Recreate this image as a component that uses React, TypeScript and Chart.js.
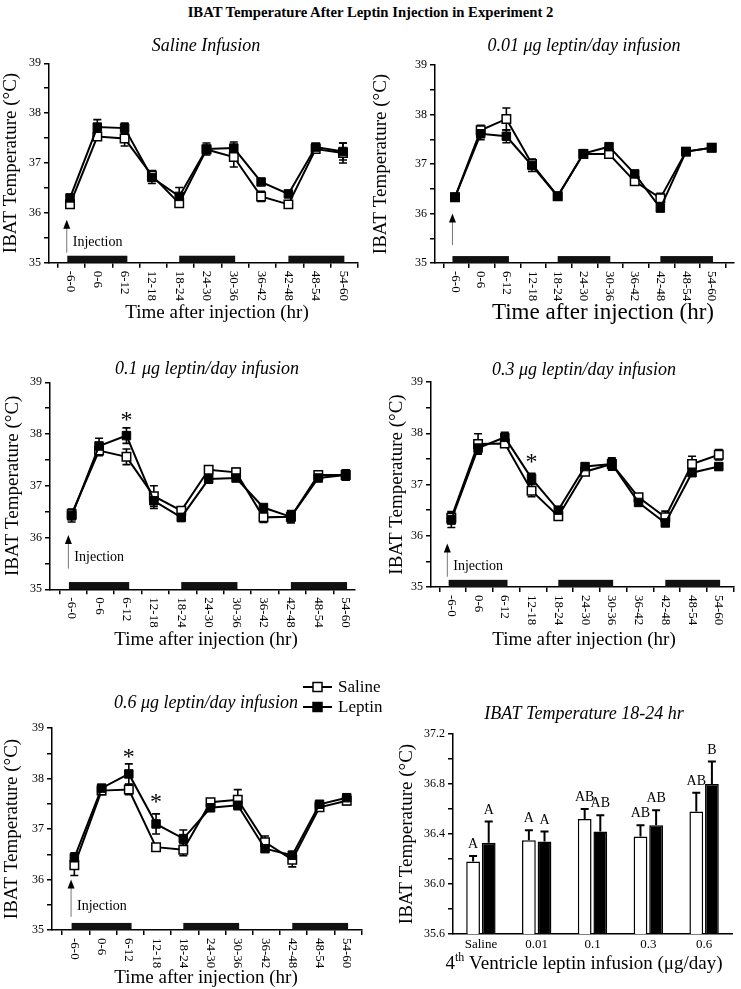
import React, { useEffect, useRef } from 'react';
import { Chart, registerables } from 'chart.js';
Chart.register(...registerables);

const SERIF = '"Liberation Serif", "Times New Roman", Times, serif';

const mainTitle = 'IBAT Temperature After Leptin Injection in Experiment 2';
const timeLabels = ['-6-0', '0-6', '6-12', '12-18', '18-24', '24-30', '30-36', '36-42', '42-48', '48-54', '54-60'];
const tickMarks = [-0.45, 0.55, 1.55, 2.55, 3.55, 4.55, 5.55, 6.55, 7.55, 8.55, 9.55, 10.55];
const darkPeriods: [number, number][] = [[-0.1, 2.1], [4.0, 6.05], [8.0, 10.05]];
const darkBarTop = 35.14;

// Saline infusion
const sal_saline = [36.17, 37.53, 37.49, 36.75, 36.19, 37.27, 37.12, 36.33, 36.17, 37.28, 37.2];
const sal_salineErr = [0.07, 0.06, 0.15, 0.1, 0.05, 0.07, 0.2, 0.1, 0.04, 0.07, 0.2];
const sal_leptin = [36.3, 37.72, 37.7, 36.71, 36.33, 37.28, 37.3, 36.62, 36.38, 37.32, 37.23];
const sal_leptinErr = [0.06, 0.15, 0.1, 0.12, 0.18, 0.12, 0.12, 0.04, 0.05, 0.06, 0.17];

// 0.01 ug
const d001_saline = [36.33, 37.68, 37.91, 37.0, 36.35, 37.2, 37.2, 36.65, 36.31, 37.25, 37.33];
const d001_salineErr = [0.05, 0.1, 0.22, 0.1, 0.05, 0.06, 0.05, 0.06, 0.1, 0.04, 0.05];
const d001_leptin = [36.33, 37.61, 37.56, 36.97, 36.35, 37.21, 37.35, 36.8, 36.11, 37.25, 37.33];
const d001_leptinErr = [0.06, 0.12, 0.13, 0.12, 0.05, 0.07, 0.05, 0.05, 0.07, 0.04, 0.06];

// 0.1 ug
const d01_saline = [36.45, 37.68, 37.56, 36.8, 36.52, 37.31, 37.26, 36.39, 36.4, 37.21, 37.21];
const d01_salineErr = [0.1, 0.1, 0.15, 0.2, 0.05, 0.05, 0.08, 0.1, 0.1, 0.05, 0.1];
const d01_leptin = [36.42, 37.77, 37.97, 36.71, 36.39, 37.13, 37.15, 36.58, 36.4, 37.15, 37.21];
const d01_leptinErr = [0.12, 0.15, 0.15, 0.15, 0.08, 0.08, 0.05, 0.06, 0.12, 0.06, 0.1];

// 0.3 ug
const d03_saline = [36.35, 37.79, 37.8, 36.88, 36.38, 37.25, 37.4, 36.75, 36.36, 37.4, 37.58];
const d03_salineErr = [0.12, 0.2, 0.06, 0.12, 0.06, 0.05, 0.1, 0.05, 0.12, 0.15, 0.1];
const d03_leptin = [36.31, 37.71, 37.92, 37.12, 36.5, 37.35, 37.4, 36.65, 36.25, 37.23, 37.35];
const d03_leptinErr = [0.15, 0.1, 0.1, 0.1, 0.06, 0.05, 0.12, 0.05, 0.05, 0.05, 0.06];

// 0.6 ug
const d06_saline = [36.28, 37.76, 37.78, 36.64, 36.59, 37.53, 37.58, 36.74, 36.39, 37.43, 37.56];
const d06_salineErr = [0.2, 0.08, 0.1, 0.05, 0.12, 0.05, 0.2, 0.12, 0.14, 0.05, 0.08];
const d06_leptin = [36.43, 37.81, 38.09, 37.1, 36.81, 37.42, 37.47, 36.61, 36.48, 37.49, 37.62];
const d06_leptinErr = [0.1, 0.06, 0.2, 0.2, 0.17, 0.05, 0.06, 0.05, 0.08, 0.05, 0.06];

// Bar panel 18-24 hr
const doseLabels = ['Saline', '0.01', '0.1', '0.3', '0.6'];
const barSaline = [36.18, 36.35, 36.52, 36.38, 36.58];
const barSalineErr = [0.045, 0.08, 0.08, 0.09, 0.15];
const barLeptin = [36.33, 36.34, 36.42, 36.47, 36.8];
const barLeptinErr = [0.17, 0.08, 0.13, 0.12, 0.18];
const barLettersSaline = ['A', 'A', 'AB', 'AB', 'AB'];
const barLettersLeptin = ['A', 'A', 'AB', 'AB', 'B'];

type Box = { x: number; y: number; w: number; h: number };
type Area = { l: number; t: number; r: number; b: number };
type LineCfg = {
  box: Box; area: Area; xMin: number; xMax: number;
  title: string; titleX: number; titleY: number;
  xTitleX: number; xTitleY: number; xTitleSize: number; yTitleX: number;
  saline: number[]; salineErr: number[]; leptin: number[]; leptinErr: number[];
  arrowX: number; arrowTip: number; arrowBase: number; injLabelY: number | null;
  stars: { i: number; y: number }[]; legend?: boolean;
};

const Y_TITLE_SIZE = 19;

const panels: LineCfg[] = [
  {
    box: { x: 0, y: 30, w: 370, h: 295 }, area: { l: 49, t: 63.3, r: 358, b: 262.7 }, xMin: -0.77, xMax: 10.55,
    title: 'Saline Infusion', titleX: 206, titleY: 46.7, xTitleX: 217, xTitleY: 313, xTitleSize: 19, yTitleX: 10,
    saline: sal_saline, salineErr: sal_salineErr, leptin: sal_leptin, leptinErr: sal_leptinErr,
    arrowX: -0.12, arrowTip: 35.86, arrowBase: 35.2, injLabelY: 35.4, stars: [],
  },
  {
    box: { x: 370, y: 30, w: 371, h: 295 }, area: { l: 435, t: 65, r: 735, b: 263 }, xMin: -0.78, xMax: 10.85,
    title: '0.01 μg leptin/day infusion', titleX: 584, titleY: 46.7, xTitleX: 603, xTitleY: 313, xTitleSize: 23, yTitleX: 381,
    saline: d001_saline, salineErr: d001_salineErr, leptin: d001_leptin, leptinErr: d001_leptinErr,
    arrowX: -0.1, arrowTip: 36.0, arrowBase: 35.36, injLabelY: null, stars: [],
  },
  {
    box: { x: 0, y: 340, w: 370, h: 315 }, area: { l: 50, t: 382.3, r: 355, b: 589.3 }, xMin: -0.79, xMax: 10.34,
    title: '0.1 μg leptin/day infusion', titleX: 207, titleY: 369.3, xTitleX: 206, xTitleY: 640, xTitleSize: 19, yTitleX: 13,
    saline: d01_saline, salineErr: d01_salineErr, leptin: d01_leptin, leptinErr: d01_leptinErr,
    arrowX: -0.12, arrowTip: 36.05, arrowBase: 35.4, injLabelY: 35.62, stars: [{ i: 2, y: 38.39 }],
  },
  {
    box: { x: 370, y: 340, w: 371, h: 315 }, area: { l: 431, t: 382, r: 740, b: 587 }, xMin: -0.76, xMax: 10.55,
    title: '0.3 μg leptin/day infusion', titleX: 584, titleY: 370, xTitleX: 584, xTitleY: 640, xTitleSize: 19, yTitleX: 397,
    saline: d03_saline, salineErr: d03_salineErr, leptin: d03_leptin, leptinErr: d03_leptinErr,
    arrowX: -0.15, arrowTip: 35.85, arrowBase: 35.2, injLabelY: 35.41, stars: [{ i: 3, y: 37.55 }],
  },
  {
    box: { x: 0, y: 670, w: 400, h: 319 }, area: { l: 52, t: 728, r: 362, b: 930 }, xMin: -0.82, xMax: 10.56,
    title: '0.6 μg leptin/day infusion', titleX: 206, titleY: 703, xTitleX: 206, xTitleY: 978, xTitleSize: 19, yTitleX: 12,
    saline: d06_saline, salineErr: d06_salineErr, leptin: d06_leptin, leptinErr: d06_leptinErr,
    arrowX: -0.12, arrowTip: 36.0, arrowBase: 35.26, injLabelY: 35.46,
    stars: [{ i: 2, y: 38.55 }, { i: 3, y: 37.66 }], legend: true,
  },
];

function drawErr(ctx: CanvasRenderingContext2D, x: number, y0: number, y1: number, cap: number) {
  ctx.beginPath();
  ctx.moveTo(x, y0);
  ctx.lineTo(x, y1);
  ctx.moveTo(x - cap, y1);
  ctx.lineTo(x + cap, y1);
  ctx.stroke();
}

function LinePanel({ cfg }: { cfg: LineCfg }) {
  const ref = useRef<HTMLCanvasElement>(null);
  useEffect(() => {
    const { box, area } = cfg;
    const ox = box.x, oy = box.y;
    const deco = {
      id: 'deco',
      beforeDatasetsDraw(chart: any) {
        const { ctx, scales: { x, y } } = chart;
        ctx.save();
        ctx.fillStyle = '#111';
        for (const [a, b] of darkPeriods) {
          const x0 = x.getPixelForValue(a), x1 = x.getPixelForValue(b);
          const y0 = y.getPixelForValue(darkBarTop), y1 = y.getPixelForValue(35);
          ctx.fillRect(x0, y0, x1 - x0, y1 - y0);
        }
        // injection arrow
        const ax = x.getPixelForValue(cfg.arrowX);
        const tip = y.getPixelForValue(cfg.arrowTip);
        const base = y.getPixelForValue(cfg.arrowBase);
        ctx.strokeStyle = '#777';
        ctx.lineWidth = 1;
        ctx.beginPath();
        ctx.moveTo(ax, base);
        ctx.lineTo(ax, tip + 6);
        ctx.stroke();
        ctx.fillStyle = '#000';
        ctx.beginPath();
        ctx.moveTo(ax, tip);
        ctx.lineTo(ax - 3.5, tip + 9);
        ctx.lineTo(ax + 3.5, tip + 9);
        ctx.closePath();
        ctx.fill();
        // error bars
        ctx.strokeStyle = '#000';
        ctx.lineWidth = 1.6;
        const series = [[cfg.saline, cfg.salineErr], [cfg.leptin, cfg.leptinErr]];
        for (const [vals, errs] of series) {
          vals.forEach((v, i) => {
            const px = x.getPixelForValue(i);
            const c = y.getPixelForValue(v);
            drawErr(ctx, px, c, y.getPixelForValue(v + errs[i]), 4);
            drawErr(ctx, px, c, y.getPixelForValue(v - errs[i]), 4);
          });
        }
        ctx.restore();
      },
      afterDraw(chart: any) {
        const { ctx, scales: { x, y } } = chart;
        ctx.save();
        ctx.fillStyle = '#000';
        ctx.textAlign = 'center';
        ctx.textBaseline = 'middle';
        ctx.font = `italic 18px ${SERIF}`;
        ctx.fillText(cfg.title, cfg.titleX - ox, cfg.titleY - oy);
        // x tick labels rotated, reading downward
        ctx.font = `13px ${SERIF}`;
        const axisY = y.getPixelForValue(35);
        timeLabels.forEach((lab, i) => {
          ctx.save();
          ctx.translate(x.getPixelForValue(i), axisY + 8);
          ctx.rotate(Math.PI / 2);
          ctx.textAlign = 'left';
          ctx.textBaseline = 'middle';
          ctx.fillText(lab, 0, 0);
          ctx.restore();
        });
        ctx.font = `${cfg.xTitleSize}px ${SERIF}`;
        ctx.textAlign = 'center';
        ctx.fillText('Time after injection (hr)', cfg.xTitleX - ox, cfg.xTitleY - oy);
        // injection label
        if (cfg.injLabelY !== null) {
          ctx.font = `14px ${SERIF}`;
          ctx.textAlign = 'left';
          ctx.fillText('Injection', x.getPixelForValue(cfg.arrowX) + 6, y.getPixelForValue(cfg.injLabelY));
        }
        // significance stars
        ctx.font = `24px ${SERIF}`;
        ctx.textAlign = 'center';
        ctx.textBaseline = 'alphabetic';
        for (const s of cfg.stars) {
          ctx.fillText('*', x.getPixelForValue(s.i), y.getPixelForValue(s.y) + 13);
        }
        // legend
        if (cfg.legend) {
          const items = [
            { label: 'Saline', fill: '#fff', py: 687 },
            { label: 'Leptin', fill: '#000', py: 707 },
          ];
          ctx.textBaseline = 'middle';
          ctx.textAlign = 'left';
          ctx.font = `17px ${SERIF}`;
          for (const it of items) {
            const cy = it.py - oy;
            ctx.strokeStyle = '#000';
            ctx.lineWidth = 2;
            ctx.beginPath();
            ctx.moveTo(303 - ox, cy);
            ctx.lineTo(332 - ox, cy);
            ctx.stroke();
            ctx.fillStyle = it.fill;
            ctx.fillRect(313 - ox, cy - 4.5, 9, 9);
            ctx.lineWidth = 1.5;
            ctx.strokeRect(313 - ox, cy - 4.5, 9, 9);
            ctx.fillStyle = '#000';
            ctx.fillText(it.label, 338 - ox, cy + 1);
          }
        }
        ctx.restore();
      },
    };
    const chart = new Chart(ref.current as HTMLCanvasElement, {
      type: 'line',
      data: {
        datasets: [
          {
            label: 'Leptin',
            data: cfg.leptin.map((v, i) => ({ x: i, y: v })),
            borderColor: '#000', borderWidth: 2, tension: 0,
            pointStyle: 'rect', pointRadius: 6, pointBackgroundColor: '#000',
            pointBorderColor: '#000', pointBorderWidth: 1,
          },
          {
            label: 'Saline',
            data: cfg.saline.map((v, i) => ({ x: i, y: v })),
            borderColor: '#000', borderWidth: 2, tension: 0,
            pointStyle: 'rect', pointRadius: 6, pointBackgroundColor: '#fff',
            pointBorderColor: '#000', pointBorderWidth: 1.5,
          },
        ],
      },
      options: {
        animation: false,
        responsive: false,
        maintainAspectRatio: false,
        events: [],
        layout: { padding: { top: area.t - box.y, left: 0, right: box.x + box.w - area.r, bottom: 0 } },
        plugins: { legend: { display: false }, title: { display: false }, tooltip: { enabled: false } },
        scales: {
          x: {
            type: 'linear', min: cfg.xMin, max: cfg.xMax,
            afterFit: (s: any) => { s.height = box.y + box.h - area.b; },
            afterBuildTicks: (s: any) => {
              s.ticks = tickMarks.filter((v) => v >= cfg.xMin && v <= cfg.xMax).map((v) => ({ value: v }));
            },
            ticks: { display: false },
            grid: { display: true, drawOnChartArea: false, drawTicks: true, tickLength: 5, color: '#000', lineWidth: 1.5 },
            border: { display: true, color: '#000', width: 1.5 },
          },
          y: {
            min: 35, max: 39,
            afterFit: (s: any) => { s.width = area.l - box.x; },
            ticks: {
              stepSize: 0.5,
              callback: (v: any) => (Math.abs(v - Math.round(v)) < 1e-9 ? String(Math.round(v)) : ''),
              font: { family: SERIF, size: 12 }, color: '#000', padding: 3,
            },
            grid: { drawOnChartArea: false, drawTicks: true, tickLength: 5, color: '#000', lineWidth: 1.5 },
            border: { display: true, color: '#000', width: 1.5 },
            title: {
              display: true, text: 'IBAT Temperature (°C)', color: '#000',
              font: { family: SERIF, size: Y_TITLE_SIZE },
              padding: { top: Math.max(0, cfg.yTitleX - box.x - Y_TITLE_SIZE * 0.6), bottom: 0 },
            },
          },
        },
      },
      plugins: [deco],
    } as any);
    return () => chart.destroy();
  }, [cfg]);
  return (
    <canvas
      ref={ref}
      width={cfg.box.w}
      height={cfg.box.h}
      style={{ position: 'absolute', left: cfg.box.x, top: cfg.box.y, width: cfg.box.w, height: cfg.box.h }}
    />
  );
}

const barBox: Box = { x: 370, y: 690, w: 371, h: 299 };
const barArea: Area = { l: 453, t: 734, r: 732, b: 934 };

function BarPanel() {
  const ref = useRef<HTMLCanvasElement>(null);
  useEffect(() => {
    const box = barBox, area = barArea;
    const ox = box.x, oy = box.y;
    const deco = {
      id: 'barDeco',
      afterDatasetsDraw(chart: any) {
        const { ctx, scales: { y } } = chart;
        ctx.save();
        ctx.strokeStyle = '#000';
        ctx.fillStyle = '#000';
        ctx.lineWidth = 2;
        const sets = [
          [barSaline, barSalineErr, barLettersSaline],
          [barLeptin, barLeptinErr, barLettersLeptin],
        ] as [number[], number[], string[]][];
        ctx.font = `14px ${SERIF}`;
        ctx.textAlign = 'center';
        ctx.textBaseline = 'alphabetic';
        sets.forEach(([vals, errs, letters], di) => {
          const meta = chart.getDatasetMeta(di);
          vals.forEach((v, i) => {
            const el = meta.data[i];
            const top = y.getPixelForValue(v + errs[i]);
            drawErr(ctx, el.x, y.getPixelForValue(v), top, 4);
            ctx.fillText(letters[i], el.x, top - 8);
          });
        });
        ctx.restore();
      },
      afterDraw(chart: any) {
        const { ctx } = chart;
        ctx.save();
        ctx.fillStyle = '#000';
        ctx.textAlign = 'center';
        ctx.textBaseline = 'middle';
        ctx.font = `italic 18px ${SERIF}`;
        ctx.fillText('IBAT Temperature 18-24 hr', 584 - ox, 714 - oy);
        // x title with superscript
        const big = `19px ${SERIF}`, small = `12px ${SERIF}`;
        const p1 = '4', p2 = 'th', p3 = ' Ventricle leptin infusion (μg/day)';
        ctx.font = big;
        const w1 = ctx.measureText(p1).width, w3 = ctx.measureText(p3).width;
        ctx.font = small;
        const w2 = ctx.measureText(p2).width;
        const total = w1 + w2 + w3;
        let sx = 584 - ox - total / 2;
        const cy = 964 - oy;
        ctx.textAlign = 'left';
        ctx.font = big;
        ctx.fillText(p1, sx, cy);
        sx += w1;
        ctx.font = small;
        ctx.fillText(p2, sx, cy - 6);
        sx += w2;
        ctx.font = big;
        ctx.fillText(p3, sx, cy);
        ctx.restore();
      },
    };
    const chart = new Chart(ref.current as HTMLCanvasElement, {
      type: 'bar',
      data: {
        labels: doseLabels,
        datasets: [
          {
            label: 'Saline', data: barSaline, backgroundColor: '#fff', borderColor: '#000',
            borderWidth: 1.5, categoryPercentage: 0.56, barPercentage: 0.88,
          },
          {
            label: 'Leptin', data: barLeptin, backgroundColor: '#000', borderColor: '#000',
            borderWidth: 1.5, categoryPercentage: 0.56, barPercentage: 0.88,
          },
        ],
      },
      options: {
        animation: false,
        responsive: false,
        maintainAspectRatio: false,
        events: [],
        layout: { padding: { top: area.t - box.y, left: 0, right: box.x + box.w - area.r, bottom: 0 } },
        plugins: { legend: { display: false }, title: { display: false }, tooltip: { enabled: false } },
        scales: {
          x: {
            afterFit: (s: any) => { s.height = box.y + box.h - area.b; },
            grid: { display: false, drawTicks: false },
            border: { display: true, color: '#000', width: 1.5 },
            ticks: { font: { family: SERIF, size: 13 }, color: '#000', padding: 3, maxRotation: 0 },
          },
          y: {
            min: 35.6, max: 37.2,
            afterFit: (s: any) => { s.width = area.l - box.x; },
            ticks: {
              stepSize: 0.2,
              callback: (v: any) => {
                const k = (v - 35.6) / 0.4;
                return Math.abs(k - Math.round(k)) < 1e-6 ? Number(v).toFixed(1) : '';
              },
              font: { family: SERIF, size: 12 }, color: '#000', padding: 3,
            },
            grid: { drawOnChartArea: false, drawTicks: true, tickLength: 5, color: '#000', lineWidth: 1.5 },
            border: { display: true, color: '#000', width: 1.5 },
            title: {
              display: true, text: 'IBAT Temperature (°C)', color: '#000',
              font: { family: SERIF, size: Y_TITLE_SIZE },
              padding: { top: 407 - box.x - Y_TITLE_SIZE * 0.6, bottom: 0 },
            },
          },
        },
      },
      plugins: [deco],
    } as any);
    return () => chart.destroy();
  }, []);
  return (
    <canvas
      ref={ref}
      width={barBox.w}
      height={barBox.h}
      style={{ position: 'absolute', left: barBox.x, top: barBox.y, width: barBox.w, height: barBox.h }}
    />
  );
}

export default function App() {
  return (
    <div style={{ position: 'absolute', left: 0, top: 0, width: 741, height: 989, background: '#fff', overflow: 'hidden' }}>
      <div
        style={{
          position: 'absolute', left: 0, top: 3, width: 741, textAlign: 'center',
          font: `bold 14.7px ${SERIF}`, color: '#000', lineHeight: '18px',
        }}
      >
        {mainTitle}
      </div>
      {panels.map((p, i) => (
        <LinePanel key={i} cfg={p} />
      ))}
      <BarPanel />
    </div>
  );
}
